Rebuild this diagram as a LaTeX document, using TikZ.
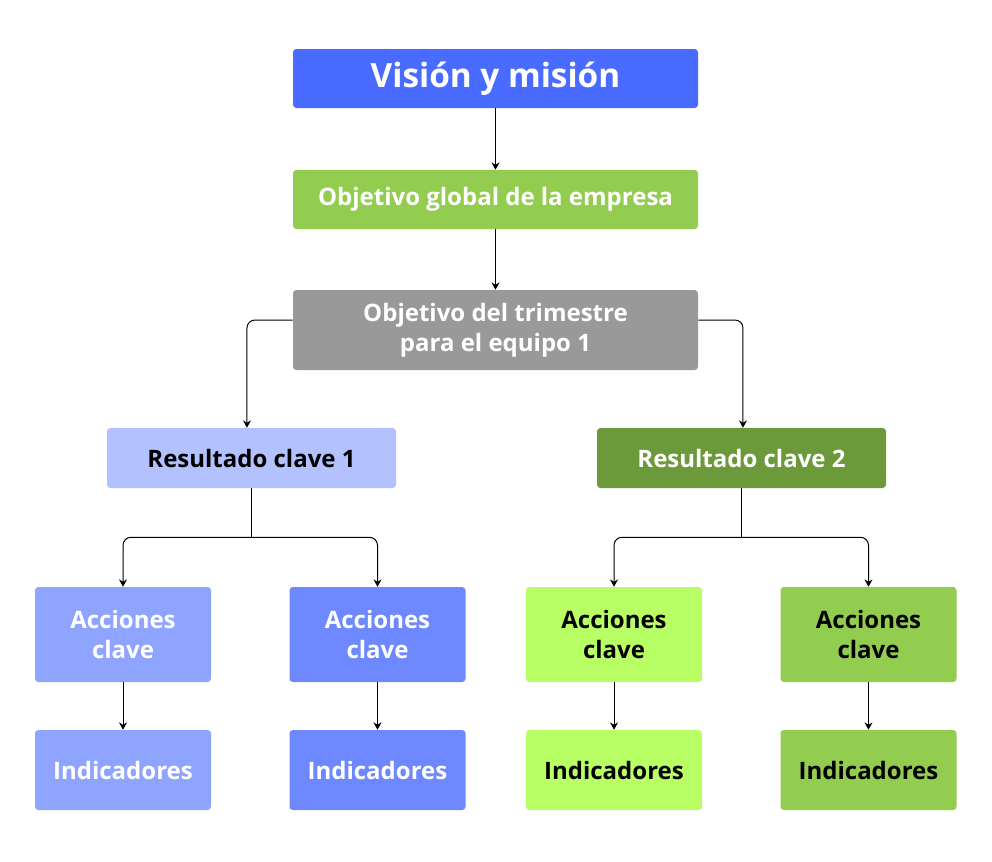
\documentclass[tikz,border=0pt]{standalone}
\usepackage{fontspec}
\setmainfont{Open Sans}
\usepackage{tikz}
\usetikzlibrary{arrows.meta,positioning,calc}

\definecolor{vision}{HTML}{4A6BFF}
\definecolor{verde}{HTML}{92CD50}
\definecolor{gris}{HTML}{999999}
\definecolor{azulclaro}{HTML}{B3C1FF}
\definecolor{verdeosc}{HTML}{6C9A3A}
\definecolor{azulmed}{HTML}{8FA4FF}
\definecolor{azulfuerte}{HTML}{6E88FF}
\definecolor{lima}{HTML}{B8FF66}

\begin{document}
\begin{tikzpicture}[x=0.75pt, y=-0.75pt, >={Stealth[length=5.5pt,width=6pt]},
  caja/.style={rounded corners=2.5pt, inner sep=0pt, align=center,
    font=\bfseries\fontsize{18}{22.5}\selectfont, text=white},
  ancha/.style={caja, minimum width=303.75pt, minimum height=44.25pt},
  media/.style={caja, minimum width=216.75pt, minimum height=45pt},
  accion/.style={caja, minimum width=132pt, minimum height=71.25pt},
  indic/.style={caja, minimum width=132pt, minimum height=60pt},
  flecha/.style={->, line width=0.75pt, black, rounded corners=6pt}]

  \useasboundingbox (0,0) rectangle (992,861);

  % --- Top of the tree ---
  \node[ancha, fill=vision, font=\bfseries\fontsize{25}{30}\selectfont] (vision) at (495.5,78.5)
    {Visión y misión};
  \node[ancha, fill=verde] (global) at (495.5,199.5)
    {Objetivo global de la empresa};
  \node[ancha, fill=gris, minimum height=60pt] (trim) at (495.5,330)
    {Objetivo del trimestre\\para el equipo 1};

  % --- Key results ---
  \node[media, fill=azulclaro, text=black] (res1) at (251.5,458) {Resultado clave 1};
  \node[media, fill=verdeosc] (res2) at (741.5,458) {Resultado clave 2};

  % --- Actions (two per key result) ---
  \node[accion, fill=azulmed] (acc1) at (123,634.5) {Acciones\\clave};
  \node[accion, fill=azulfuerte] (acc2) at (377.5,634.5) {Acciones\\clave};
  \node[accion, fill=lima, text=black] (acc3) at (614,634.5) {Acciones\\clave};
  \node[accion, fill=verde, text=black] (acc4) at (868.5,634.5) {Acciones\\clave};

  % --- Indicators ---
  \node[indic, fill=azulmed] (ind1) at (123,770) {Indicadores};
  \node[indic, fill=azulfuerte] (ind2) at (377.5,770) {Indicadores};
  \node[indic, fill=lima, text=black] (ind3) at (614,770) {Indicadores};
  \node[indic, fill=verde, text=black] (ind4) at (868.5,770) {Indicadores};

  % --- Connectors ---
  \draw[flecha] (vision) -- (global);
  \draw[flecha] (global) -- (trim);
  \draw[flecha] ([yshift=7.5pt]trim.west) -| ([xshift=-3.4pt]res1.north);
  \draw[flecha] ([yshift=7.5pt]trim.east) -| ([xshift=1.1pt]res2.north);

  % forks below the key results
  \draw[line width=0.75pt] (res1.south) -- ++(0,49) coordinate (f1);
  \draw[flecha] (f1) -| (acc1.north);
  \draw[flecha] (f1) -| (acc2.north);
  \draw[line width=0.75pt] (res2.south) -- ++(0,49) coordinate (f2);
  \draw[flecha] (f2) -| (acc3.north);
  \draw[flecha] (f2) -| (acc4.north);

  \foreach \i in {1,...,4}
    \draw[flecha] (acc\i) -- (ind\i);
\end{tikzpicture}
\end{document}
